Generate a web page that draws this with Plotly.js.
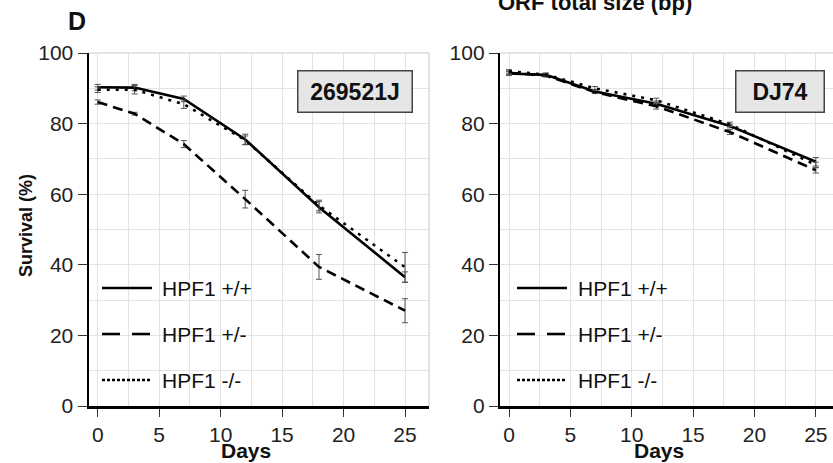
<!DOCTYPE html>
<html>
<head>
<meta charset="utf-8">
<script src="https://cdn.plot.ly/plotly-3.0.1.min.js"></script>
<style>html,body{margin:0;padding:0;background:#fff;}#chart{width:833px;height:463px;}</style>
</head>
<body>
<div id="chart"></div>
<script>
// ---- data ----
const days = [0, 3, 7, 12, 18, 25];
const seriesNames = ["HPF1 +/+", "HPF1 +/-", "HPF1 -/-"];
const panelLabels = ["269521J", "DJ74"];

// Panel 1: 269521J
const p1_wt = [90.3, 90.2, 87.0, 75.5, 56.3, 36.5];
const p1_wt_err = [0.8, 0.9, 0.8, 1.5, 1.6, 1.5];
const p1_het = [86.1, 82.8, 74.2, 58.6, 39.4, 27.0];
const p1_het_err = [0.6, 0.4, 1.0, 2.5, 3.5, 3.4];
const p1_ko = [89.6, 89.6, 85.5, 75.3, 56.8, 39.3];
const p1_ko_err = [0.8, 1.2, 1.2, 1.2, 1.5, 4.2];

// Panel 2: DJ74
const p2_wt = [94.2, 93.8, 89.1, 85.6, 79.3, 69.2];
const p2_wt_err = [0.6, 0.5, 0.5, 0.8, 0.5, 1.2];
const p2_het = [94.4, 93.6, 88.9, 84.9, 77.6, 66.8];
const p2_het_err = [0.5, 0.4, 0.4, 0.8, 0.7, 0.8];
const p2_ko = [94.8, 93.9, 90.0, 86.6, 79.8, 68.3];
const p2_ko_err = [0.5, 0.4, 0.5, 0.6, 0.6, 0.8];

// ---- styles ----
const lineDash = ["solid", "10px,6px", "3px,6px"];
const legendDash = ["solid", "18px,12px", "3px,2px"];
const FONT = "Liberation Sans, Arial, sans-serif";

function mk(y, err, idx, xa, ya) {
  return {
    x: days, y: y, type: "scatter", mode: "lines", name: seriesNames[idx],
    xaxis: xa, yaxis: ya, showlegend: false,
    line: {color: "#000", width: 2.6, dash: lineDash[idx]},
    error_y: {type: "data", array: err, visible: true, color: "#555", thickness: 1, width: 3}
  };
}

const traces = [
  mk(p1_wt, p1_wt_err, 0, "x", "y"),
  mk(p1_het, p1_het_err, 1, "x", "y"),
  mk(p1_ko, p1_ko_err, 2, "x", "y"),
  mk(p2_wt, p2_wt_err, 0, "x2", "y2"),
  mk(p2_het, p2_het_err, 1, "x2", "y2"),
  mk(p2_ko, p2_ko_err, 2, "x2", "y2")
];

const W = 833, H = 463, T = 53, B = 57;
const PH = H - T - B;
const px = v => v / W;
const py = v => (H - B - v) / PH;

function xax(domain, range) {
  return {
    domain: domain, range: range, tickmode: "array", tickvals: [0,5,10,15,20,25],
    ticks: "outside", ticklen: 8, tickwidth: 1, tickcolor: "#333",
    showline: true, linecolor: "#000", linewidth: 2.5,
    showgrid: true, gridcolor: "#e3e3e3", gridwidth: 1,
    minor: {dtick: 2.5, tick0: 0, showgrid: true, gridcolor: "#e3e3e3", gridwidth: 1},
    zeroline: false, tickfont: {family: FONT, size: 21, color: "#222"},
    fixedrange: true
  };
}
function yax(anchor) {
  return {
    anchor: anchor, domain: [0, 1], range: [0, 100], dtick: 20, tick0: 0,
    ticks: "outside", ticklen: 9, tickwidth: 1, tickcolor: "#333",
    showline: true, linecolor: "#000", linewidth: 2.5,
    showgrid: true, gridcolor: "#e3e3e3", gridwidth: 1,
    minor: {dtick: 10, tick0: 0, showgrid: true, gridcolor: "#e3e3e3", gridwidth: 1},
    zeroline: false, tickfont: {family: FONT, size: 21, color: "#222"},
    fixedrange: true
  };
}

const shapes = [];
const annotations = [];

// borders (top/right) in light gray
shapes.push({type: "line", xref: "x domain", yref: "y domain", x0: 1, x1: 1, y0: 0, y1: 1, line: {color: "#c8c8c8", width: 1}});
shapes.push({type: "line", xref: "x domain", yref: "y domain", x0: 0, x1: 1, y0: 1, y1: 1, line: {color: "#c8c8c8", width: 1}});
shapes.push({type: "line", xref: "x2 domain", yref: "y2 domain", x0: 0, x1: 1, y0: 1, y1: 1, line: {color: "#c8c8c8", width: 1}});

// manual legends
const legRows = [288, 334, 380];
const legPanels = [{x0: 102, x1: 152, tx: 160}, {x0: 517, x1: 567, tx: 576}];
legPanels.forEach(lp => {
  seriesNames.forEach((nm, i) => {
    shapes.push({type: "line", xref: "paper", yref: "paper", x0: px(lp.x0), x1: px(lp.x1), y0: py(legRows[i]), y1: py(legRows[i]),
      line: {color: "#000", width: 2.6, dash: legendDash[i]}});
    annotations.push({xref: "paper", yref: "paper", x: px(lp.tx), y: py(legRows[i]), xanchor: "left", yanchor: "middle",
      text: nm, showarrow: false, font: {family: FONT, size: 21, color: "#111"}});
  });
});

// inset labels
annotations.push({xref: "paper", yref: "paper", x: px(354.7), y: py(91.5), xanchor: "center", yanchor: "middle",
  text: "<b>" + panelLabels[0] + "</b>", showarrow: false, font: {family: FONT, size: 23, color: "#111"},
  bgcolor: "#e6e6e6", bordercolor: "#444", borderwidth: 1.5, borderpad: 3, width: 107, height: 34});
annotations.push({xref: "paper", yref: "paper", x: px(780), y: py(91.5), xanchor: "center", yanchor: "middle",
  text: "<b>" + panelLabels[1] + "</b>", showarrow: false, font: {family: FONT, size: 23, color: "#111"},
  bgcolor: "#e6e6e6", bordercolor: "#444", borderwidth: 1.5, borderpad: 3, width: 81, height: 34});

// titles
annotations.push({xref: "paper", yref: "paper", x: px(77), y: py(21), xanchor: "center", yanchor: "middle",
  text: "<b>D</b>", showarrow: false, font: {family: FONT, size: 25, color: "#111"}});
annotations.push({xref: "paper", yref: "paper", x: px(595), y: py(2), xanchor: "center", yanchor: "middle",
  text: "<b>ORF total size (bp)</b>", showarrow: false, font: {family: FONT, size: 22, color: "#111"}});
annotations.push({xref: "paper", yref: "paper", x: px(26), y: py(226), xanchor: "center", yanchor: "middle",
  text: "<b>Survival (%)</b>", textangle: -90, showarrow: false, font: {family: FONT, size: 18, color: "#111"}});
annotations.push({xref: "paper", yref: "paper", x: px(246), y: py(451), xanchor: "center", yanchor: "middle",
  text: "<b>Days</b>", showarrow: false, font: {family: FONT, size: 21, color: "#111"}});
annotations.push({xref: "paper", yref: "paper", x: px(659), y: py(451), xanchor: "center", yanchor: "middle",
  text: "<b>Days</b>", showarrow: false, font: {family: FONT, size: 21, color: "#111"}});

const layout = {
  width: W, height: H,
  margin: {l: 0, r: 0, t: T, b: B, pad: 0},
  paper_bgcolor: "#fff", plot_bgcolor: "#fff",
  showlegend: false,
  xaxis: Object.assign(xax([px(89), px(429)], [-0.71, 26.95]), {anchor: "y"}),
  yaxis: yax("x"),
  xaxis2: Object.assign(xax([px(500.3), 1], [-0.71, 26.4]), {anchor: "y2"}),
  yaxis2: yax("x2"),
  shapes: shapes,
  annotations: annotations
};

Plotly.newPlot("chart", traces, layout, {displayModeBar: false, staticPlot: true});
</script>
</body>
</html>
